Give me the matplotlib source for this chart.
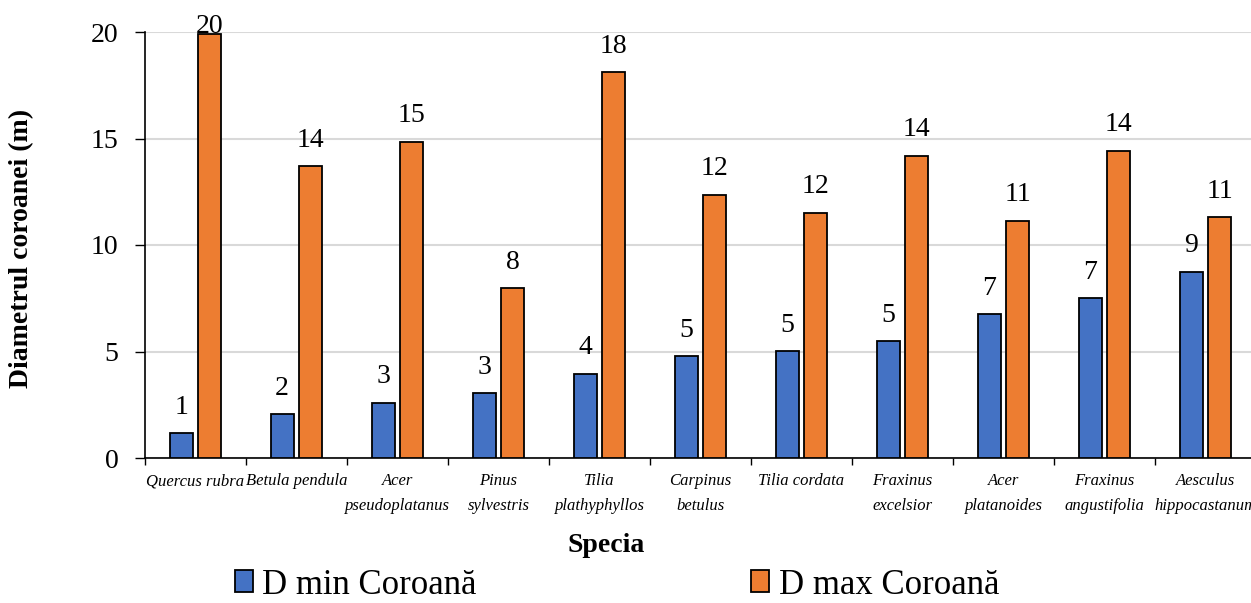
import matplotlib.pyplot as plt
import numpy as np

# species and crown diameters (m)
species = ["Quercus rubra", "Betula pendula", "Acer\npseudoplatanus", "Pinus\nsylvestris",
           "Tilia\nplathyphyllos", "Carpinus\nbetulus", "Tilia cordata", "Fraxinus\nexcelsior",
           "Acer\nplatanoides", "Fraxinus\nangustifolia", "Aesculus\nhippocastanum"]
d_min = [1.17, 2.05, 2.60, 3.04, 3.96, 4.79, 5.01, 5.48, 6.76, 7.49, 8.75]
d_max = [19.89, 13.71, 14.85, 7.98, 18.12, 12.36, 11.52, 14.19, 11.14, 14.43, 11.30]

plt.rcParams['font.family'] = "Liberation Serif"

fig = plt.figure(figsize=(12.51, 6.03), dpi=100)
ax = fig.add_axes([145 / 1251, 145 / 603, 1111 / 1251, 426 / 603])

x = np.arange(len(species))
w = 0.23
b1 = ax.bar(x - 0.142, d_min, w, color="#4472C4", edgecolor="black", linewidth=1.3,
            label="D min Coroană", zorder=3)
b2 = ax.bar(x + 0.142, d_max, w, color="#ED7D31", edgecolor="black", linewidth=1.3,
            label="D max Coroană", zorder=3)

ymax = 20
for bars, vals in ((b1, d_min), (b2, d_max)):
    for r, v in zip(bars, vals):
        # like excel, keep the label inside the chart area near the top
        room = (ymax - v) / ymax * 426 + 32 - 13 - 20   # px left above the bar
        off = max(0.5, min(14, room * 0.72))
        ax.annotate(f"{v:.0f}", (r.get_x() + r.get_width() / 2, v),
                    xytext=(0, off), textcoords="offset points",
                    ha="center", va="baseline", fontsize=20, annotation_clip=False)

ax.set_xlim(-0.5, len(species) - 0.5)
ax.set_ylim(0, ymax)
ax.set_yticks([0, 5, 10, 15, 20])
ax.tick_params(axis="y", labelsize=20, length=7, width=1, pad=12)
ax.yaxis.grid(True, color="#d9d9d9", linewidth=1.5, zorder=0)
ax.set_axisbelow(True)

ax.set_xticks(x)
ax.set_xticklabels(species, fontsize=12, style="italic", linespacing=1.7)
ax.tick_params(axis="x", length=0, pad=11)
ax.set_xticks(np.arange(-0.5, len(species)), minor=True)
ax.tick_params(axis="x", which="minor", length=5, width=1)

for s in ("top", "right"):
    ax.spines[s].set_visible(False)
ax.spines["left"].set_linewidth(1.2)
ax.spines["bottom"].set_linewidth(1.2)

fig.text(22 / 1251, 1 - 248 / 603, "Diametrul coroanei (m)", rotation=90, ha="center",
         va="center", fontsize=20, fontweight="bold")
fig.text(606 / 1251, 1 - 545 / 603, "Specia", ha="center", va="center",
         fontsize=20, fontweight="bold")

fig.legend(handles=[b1, b2], loc="center", bbox_to_anchor=(617 / 1251, 1 - 585 / 603),
           ncol=2, frameon=False, fontsize=25, handlelength=0.52, handleheight=0.6,
           handletextpad=0.28, columnspacing=7.9, borderpad=0)

fig.savefig("out.png", dpi=100)
